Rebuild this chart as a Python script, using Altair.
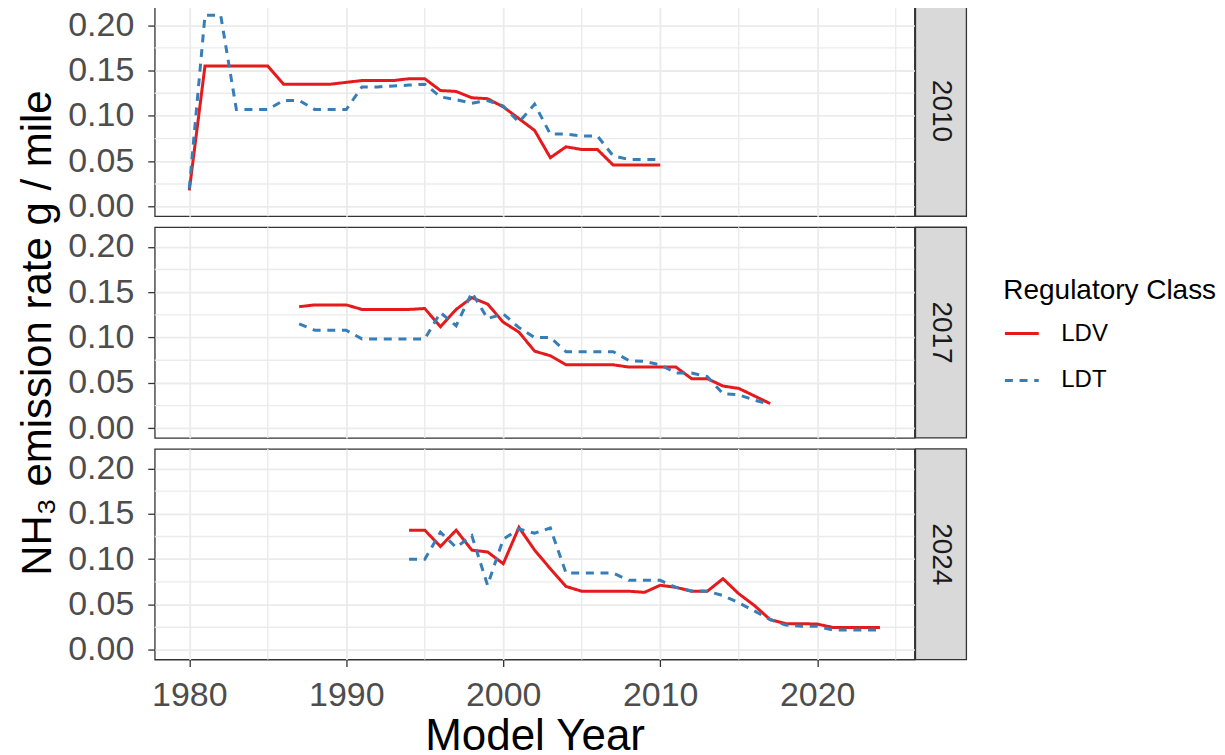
import altair as alt
import pandas as pd

FONT = "Liberation Sans"
panels = ["2010", "2017", "2024"]
classes = ["LDV", "LDT"]
class_colors = ["#E41A1C", "#377EB8"]

years_2010 = list(range(1980, 2011))
ldv_2010 = [0.018, 0.155, 0.155, 0.155, 0.155, 0.155, 0.135, 0.135, 0.135, 0.135,
            0.137, 0.139, 0.139, 0.139, 0.141, 0.141, 0.128, 0.127, 0.120, 0.119,
            0.110, 0.097, 0.084, 0.054, 0.066, 0.063, 0.063, 0.046, 0.046, 0.046, 0.046]
ldt_2010 = [0.020, 0.211, 0.211, 0.107, 0.107, 0.107, 0.117, 0.117, 0.107, 0.107,
            0.107, 0.132, 0.132, 0.133, 0.134, 0.135, 0.121, 0.118, 0.114, 0.117,
            0.111, 0.093, 0.113, 0.080, 0.080, 0.078, 0.078, 0.056, 0.052, 0.052, 0.052]

years_2017 = list(range(1987, 2018))
ldv_2017 = [0.134, 0.136, 0.136, 0.136, 0.131, 0.131, 0.131, 0.131, 0.132, 0.112,
            0.131, 0.144, 0.137, 0.117, 0.106, 0.085, 0.080, 0.070, 0.070, 0.070,
            0.070, 0.0675, 0.0675, 0.0675, 0.0675, 0.0547, 0.0547, 0.0466, 0.044, 0.0357, 0.0273]
ldt_2017 = [0.115, 0.108, 0.108, 0.108, 0.0985, 0.0985, 0.0985, 0.0985, 0.0985, 0.1275,
            0.113, 0.1495, 0.121, 0.126, 0.111, 0.100, 0.100, 0.0845, 0.0845, 0.0845,
            0.0845, 0.0747, 0.0737, 0.070, 0.061, 0.061, 0.057, 0.038, 0.037, 0.031, 0.0266]

years_2024 = list(range(1994, 2025))
ldv_2024 = [0.132, 0.132, 0.114, 0.132, 0.110, 0.108, 0.095, 0.135, 0.110, 0.0895,
            0.070, 0.0647, 0.0647, 0.0647, 0.0647, 0.0635, 0.0713, 0.069, 0.0647, 0.0647,
            0.0785, 0.062, 0.049, 0.0335, 0.029, 0.029, 0.0285, 0.0248, 0.0248, 0.0248, 0.0248]
ldt_2024 = [0.100, 0.100, 0.1297, 0.113, 0.126, 0.0713, 0.122, 0.1333, 0.1286, 0.1344,
            0.0847, 0.0847, 0.0847, 0.0847, 0.0767, 0.0767, 0.0767, 0.069, 0.065, 0.0647,
            0.060, 0.052, 0.043, 0.0335, 0.0274, 0.026, 0.026, 0.022, 0.022, 0.022, 0.022]

x_major = [1980, 1990, 2000, 2010, 2020]
x_minor = [1985, 1995, 2005, 2015, 2025]
y_major = [0.0, 0.05, 0.10, 0.15, 0.20]
y_minor = [0.025, 0.075, 0.125, 0.175]

W, H, SW = 761, 211, 51
xscale = alt.Scale(domain=[1977.8, 2026.2], nice=False, zero=False)
yscale = alt.Scale(domain=[-0.01055, 0.22155], nice=False, zero=False)

legend = alt.Legend(title="Regulatory Class", orient="none", legendX=850, legendY=272,
                    symbolType="stroke", symbolSize=1150, symbolStrokeWidth=3,
                    titleFontSize=28, labelFontSize=24, titleFont=FONT, labelFont=FONT,
                    titleColor="black", labelColor="black", titleFontWeight="normal",
                    titleLimit=400, labelLimit=200,
                    rowPadding=16, titlePadding=10, labelOffset=21)


def make_panel(name, years, ldv, ldt, show_x, show_ytitle):
    df = pd.DataFrame({
        "Year": years + years,
        "Rate": ldv + ldt,
        "Class": ["LDV"] * len(years) + ["LDT"] * len(years),
    })
    xkw = dict(values=x_major, format="d", grid=True, gridColor="#EBEBEB", gridWidth=1.8,
               domain=False, labelFont=FONT, labelFontSize=34, labelColor="#4D4D4D",
               tickColor="#333333", tickWidth=1.3, tickSize=7, labelPadding=12,
               titleFont=FONT, titleFontSize=44, titleColor="black",
               titleFontWeight="normal", titlePadding=2)
    if show_x:
        xkw["title"] = "Model Year"
    else:
        xkw.update(labels=False, ticks=False, title=None)
    ykw = dict(values=y_major, format=".2f", grid=True, gridColor="#EBEBEB", gridWidth=1.8,
               domain=False, labelFont=FONT, labelFontSize=34, labelColor="#4D4D4D",
               tickColor="#333333", tickWidth=1.3, tickSize=7, labelPadding=14,
               titleFont=FONT, titleFontSize=42, titleColor="black",
               titleFontWeight="normal", titlePadding=8)
    ykw["title"] = "NH₃ emission rate g / mile" if show_ytitle else None
    xaxis = alt.Axis(**xkw)
    yaxis = alt.Axis(**ykw)

    vminor = alt.Chart(pd.DataFrame({"Year": x_minor})).mark_rule(
        color="#EBEBEB", strokeWidth=1.4).encode(
        x=alt.X("Year:Q", scale=xscale, axis=xaxis))
    hminor = alt.Chart(pd.DataFrame({"Rate": y_minor})).mark_rule(
        color="#EBEBEB", strokeWidth=1.4).encode(
        y=alt.Y("Rate:Q", scale=yscale, axis=yaxis))
    lines = alt.Chart(df).mark_line(strokeWidth=3, strokeCap="butt").encode(
        x=alt.X("Year:Q", scale=xscale, axis=xaxis),
        y=alt.Y("Rate:Q", scale=yscale, axis=yaxis),
        color=alt.Color("Class:N", scale=alt.Scale(domain=classes, range=class_colors), legend=legend),
        strokeDash=alt.StrokeDash("Class:N", scale=alt.Scale(domain=classes, range=[[1, 0], [8, 6.7]]), legend=legend),
        detail="Class:N",
    )
    sdf = pd.DataFrame({"Panel": [name]})
    box = alt.Chart(sdf).mark_rect(fill="#D9D9D9", stroke="#333333", strokeWidth=1.3).encode(
        x=alt.value(W + 1), x2=alt.value(W + 1 + SW), y=alt.value(0), y2=alt.value(H))
    txt = alt.Chart(sdf).mark_text(angle=90, fontSize=28, font=FONT, color="#1A1A1A",
                                   align="center", baseline="middle").encode(
        text="Panel:N", x=alt.value(W + 1 + SW / 2), y=alt.value(H / 2))
    return alt.layer(vminor, hminor, lines, box, txt).properties(width=W, height=H)


chart = alt.vconcat(
    make_panel(panels[0], years_2010, ldv_2010, ldt_2010, False, False),
    make_panel(panels[1], years_2017, ldv_2017, ldt_2017, False, True),
    make_panel(panels[2], years_2024, ldv_2024, ldt_2024, True, False),
    spacing=11, bounds="flush",
).properties(
    padding={"left": 8, "top": -5, "right": 0, "bottom": -10}
).configure_view(stroke="#333333", strokeWidth=1.3)

chart.save("out.html", embed_options={"renderer": "svg", "actions": False})
